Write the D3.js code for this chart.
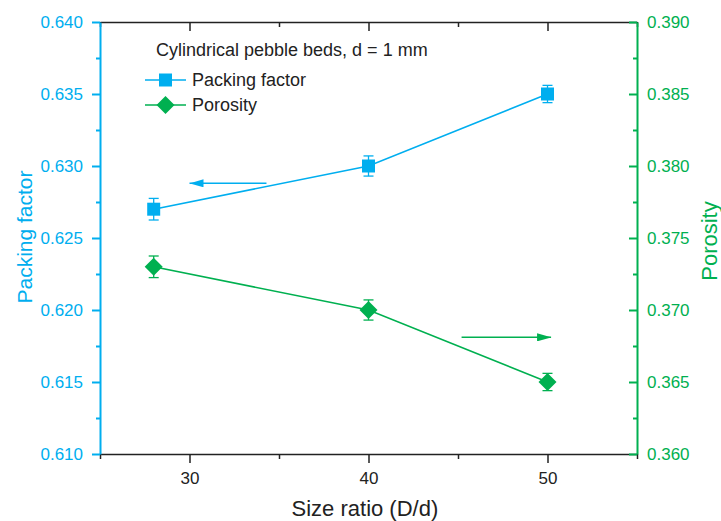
<!DOCTYPE html>
<html>
<head>
<meta charset="utf-8">
<script src="https://cdn.jsdelivr.net/npm/d3@7"></script>
<style>
  body { margin: 0; background: #fff; }
  text { font-family: Arial, "Liberation Sans", sans-serif; }
</style>
</head>
<body>
<div id="chart"></div>
<script>
// data
var sizeRatio = [28, 40, 50];
var packingFactor = [0.627, 0.630, 0.635];
var packingErr = [0.00075, 0.0007, 0.0006];
var porosity = [0.373, 0.370, 0.365];
var porosityErr = [0.00075, 0.0007, 0.0006];
var xTicks = [30, 40, 50];
var leftTicks = [0.610, 0.615, 0.620, 0.625, 0.630, 0.635, 0.640];
var rightTicks = [0.360, 0.365, 0.370, 0.375, 0.380, 0.385, 0.390];

var blue = '#00aeef';
var green = '#00b050';

var svgWidth = 721;
var svgHeight = 521;
var margin = { top: 22, right: 84, bottom: 67, left: 100 };
var width = svgWidth - margin.left - margin.right;
var height = svgHeight - margin.top - margin.bottom;

var svg = d3.select('#chart').append('svg')
  .attr('width', svgWidth)
  .attr('height', svgHeight);

var g = svg.append('g')
  .attr('transform', `translate(${margin.left}, ${margin.top})`);

var x = d3.scaleLinear().domain([25, 55]).range([0, width]);
var yL = d3.scaleLinear().domain([0.610, 0.640]).range([height, 0]);
var yR = d3.scaleLinear().domain([0.360, 0.390]).range([height, 0]);

// minor ticks
var xMinor = d3.range(25, 56, 5).filter(d => xTicks.indexOf(d) < 0);
var yMinorL = d3.range(0, 6).map(i => 0.6125 + i * 0.005);
var yMinorR = d3.range(0, 6).map(i => 0.3625 + i * 0.005);

// bottom axis
var bottomAx = g.append('g').attr('transform', `translate(0, ${height})`);
bottomAx.call(d3.axisBottom(x).tickValues(xTicks).tickSize(9).tickSizeOuter(0).tickPadding(9));
bottomAx.append('g').call(d3.axisBottom(x).tickValues(xMinor).tickSize(5).tickFormat('').tickSizeOuter(0))
  .select('.domain').remove();
bottomAx.selectAll('text').style('font-size', '17px').attr('fill', '#222');
bottomAx.selectAll('line, path').attr('stroke', '#222').attr('stroke-width', 1.5);

// top axis (inward ticks)
var topAx = g.append('g');
topAx.call(d3.axisBottom(x).tickValues(xTicks).tickSize(9).tickSizeOuter(0).tickFormat(''));
topAx.append('g').call(d3.axisBottom(x).tickValues(xMinor).tickSize(5).tickFormat('').tickSizeOuter(0))
  .select('.domain').remove();
topAx.selectAll('line, path').attr('stroke', '#222').attr('stroke-width', 1.5);

// left axis
var leftAx = g.append('g');
leftAx.call(d3.axisLeft(yL).tickValues(leftTicks).tickSize(8).tickSizeOuter(0).tickPadding(9).tickFormat(d3.format('.3f')));
leftAx.append('g').call(d3.axisLeft(yL).tickValues(yMinorL).tickSize(4).tickFormat('').tickSizeOuter(0))
  .select('.domain').remove();
leftAx.selectAll('text').style('font-size', '17px').attr('fill', blue);
leftAx.selectAll('line, path').attr('stroke', blue).attr('stroke-width', 2);

// right axis (inward ticks, labels outside)
var rightAx = g.append('g').attr('transform', `translate(${width}, 0)`);
rightAx.call(d3.axisLeft(yR).tickValues(rightTicks).tickSize(8).tickSizeOuter(0).tickFormat(''));
rightAx.append('g').call(d3.axisLeft(yR).tickValues(yMinorR).tickSize(4).tickFormat('').tickSizeOuter(0))
  .select('.domain').remove();
rightAx.selectAll('line, path').attr('stroke', green).attr('stroke-width', 2);
rightAx.selectAll('.lbl').data(rightTicks).enter().append('text')
  .attr('class', 'lbl')
  .attr('x', 10)
  .attr('y', d => yR(d))
  .attr('dy', '0.35em')
  .attr('text-anchor', 'start')
  .style('font-size', '17px')
  .attr('fill', green)
  .text(d3.format('.3f'));

// series data rows
var pf = sizeRatio.map((s, i) => ({ x: s, y: packingFactor[i], e: packingErr[i] }));
var po = sizeRatio.map((s, i) => ({ x: s, y: porosity[i], e: porosityErr[i] }));

function drawSeries(data, yScale, color, shape) {
  g.append('path').datum(data)
    .attr('fill', 'none')
    .attr('stroke', color)
    .attr('stroke-width', 1.5)
    .attr('d', d3.line().x(d => x(d.x)).y(d => yScale(d.y)));

  var eb = g.append('g').selectAll('g').data(data).enter().append('g');
  eb.append('line')
    .attr('x1', d => x(d.x)).attr('x2', d => x(d.x))
    .attr('y1', d => yScale(d.y - d.e)).attr('y2', d => yScale(d.y + d.e))
    .attr('stroke', color).attr('stroke-width', 1.3);
  [-1, 1].forEach(function(s) {
    eb.append('line')
      .attr('x1', d => x(d.x) - 5).attr('x2', d => x(d.x) + 5)
      .attr('y1', d => yScale(d.y + s * d.e)).attr('y2', d => yScale(d.y + s * d.e))
      .attr('stroke', color).attr('stroke-width', 1.3);
  });

  g.append('g').selectAll('path').data(data).enter().append('path')
    .attr('transform', d => `translate(${x(d.x)}, ${yScale(d.y)})`)
    .attr('d', shape)
    .attr('fill', color);
}

var square = 'M-6.5,-6.5H6.5V6.5H-6.5Z';
var diamond = 'M0,-9L9,0L0,9L-9,0Z';
drawSeries(pf, yL, blue, square);
drawSeries(po, yR, green, diamond);

// arrows pointing at the axes
var defs = svg.append('defs');
[['arrowBlue', blue], ['arrowGreen', green]].forEach(function(a) {
  defs.append('marker')
    .attr('id', a[0])
    .attr('viewBox', '0 0 14 8')
    .attr('refX', 14).attr('refY', 4)
    .attr('markerWidth', 14).attr('markerHeight', 8)
    .attr('markerUnits', 'userSpaceOnUse')
    .attr('orient', 'auto')
    .append('path').attr('d', 'M0,0L14,4L0,8Z').attr('fill', a[1]);
});
// annotation arrows in data units
var blueArrow = [[34.3, 0.6288], [30.0, 0.6288]];
var greenArrow = [[45.2, 0.3681], [50.2, 0.3681]];
g.append('line')
  .attr('x1', x(blueArrow[0][0])).attr('y1', yL(blueArrow[0][1]))
  .attr('x2', x(blueArrow[1][0])).attr('y2', yL(blueArrow[1][1]))
  .attr('stroke', blue).attr('stroke-width', 1.5)
  .attr('marker-end', 'url(#arrowBlue)');
g.append('line')
  .attr('x1', x(greenArrow[0][0])).attr('y1', yR(greenArrow[0][1]))
  .attr('x2', x(greenArrow[1][0])).attr('y2', yR(greenArrow[1][1]))
  .attr('stroke', green).attr('stroke-width', 1.5)
  .attr('marker-end', 'url(#arrowGreen)');

// legend
var legend = svg.append('g').attr('transform', 'translate(145, 50)');
legend.append('text')
  .attr('x', 11).attr('y', 0).attr('dy', '0.35em')
  .style('font-size', '18px').attr('fill', '#222')
  .text('Cylindrical pebble beds, d = 1 mm');
[['Packing factor', blue, square], ['Porosity', green, diamond]].forEach(function(item, i) {
  var row = legend.append('g').attr('transform', `translate(0, ${30 + i * 25})`);
  row.append('line').attr('x1', 0).attr('x2', 41).attr('stroke', item[1]).attr('stroke-width', 1.5);
  row.append('path').attr('transform', 'translate(20.5, 0)').attr('d', item[2]).attr('fill', item[1]);
  row.append('text').attr('x', 47).attr('dy', '0.35em')
    .style('font-size', '18px').attr('fill', '#222').text(item[0]);
});

// axis titles
svg.append('text')
  .attr('transform', 'translate(32, 237) rotate(-90)')
  .attr('text-anchor', 'middle')
  .style('font-size', '21px').attr('fill', blue)
  .text('Packing factor');
svg.append('text')
  .attr('transform', 'translate(717, 241) rotate(-90)')
  .attr('text-anchor', 'middle')
  .style('font-size', '22px').attr('fill', green)
  .text('Porosity');
svg.append('text')
  .attr('x', margin.left + x(39.8)).attr('y', 516)
  .attr('text-anchor', 'middle')
  .style('font-size', '22px').attr('fill', '#222')
  .text('Size ratio (D/d)');
</script>
</body>
</html>
